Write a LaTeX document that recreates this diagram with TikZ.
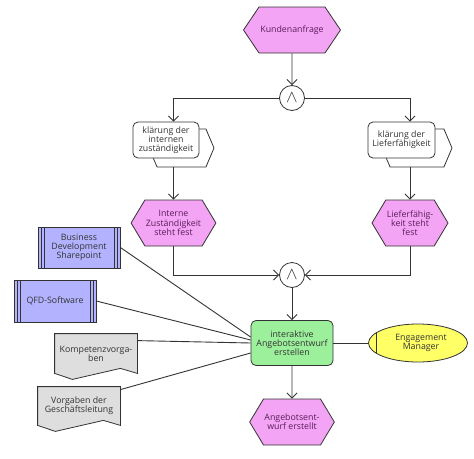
\documentclass[tikz,border=0pt]{standalone}
\usepackage{fontspec}
\setmainfont{Open Sans}
\usepackage{tikz}
\usetikzlibrary{
  arrows.meta,
  shapes.geometric,
  shapes.symbols,
  calc,
  backgrounds
}
\definecolor{epcEvent}{HTML}{F4A4F4}
\definecolor{epcEventText}{HTML}{5A1E5A}
\definecolor{epcFunc}{HTML}{9CF09C}
\definecolor{epcOrg}{HTML}{FFFF66}
\definecolor{epcApp}{HTML}{B2B2FF}
\definecolor{epcDoc}{HTML}{DEDEDE}
\definecolor{epcLine}{HTML}{333333}
\tikzset{
  epcnode/.style={
    draw=epcLine, line width=0.8pt, align=center, inner sep=1pt,
    font=\fontsize{8.8}{9.2}\selectfont, text=black!80
  },
  event/.style={epcnode, signal, signal to=west and east, signal pointer angle=118,
    fill=epcEvent, text=epcEventText, minimum width=81pt, minimum height=46pt},
  func/.style={epcnode, rectangle, rounded corners=5pt, fill=white, minimum width=66pt, minimum height=36pt},
  proc/.style={epcnode, signal, signal to=west and east, signal pointer angle=134,
    fill=white, minimum width=65pt, minimum height=38pt},
  funcmain/.style={func, fill=epcFunc, minimum width=82pt, minimum height=45pt},
  conn/.style={epcnode, circle, fill=white, minimum size=25pt, inner sep=0pt,
    font=\fontsize{16}{16}\selectfont},
  orgunit/.style={epcnode, ellipse, fill=epcOrg, minimum width=99pt, minimum height=38pt,
    path picture={\draw[epcLine, line width=0.8pt]
      ([xshift=8pt]path picture bounding box.north west) --
      ([xshift=8pt]path picture bounding box.south west);}},
  appsys/.style={epcnode, rectangle, fill=epcApp, minimum width=82pt, minimum height=41pt,
    path picture={\foreach \o in {3pt,6pt}{
      \draw[epcLine, line width=0.6pt] ([xshift=\o]path picture bounding box.north west) --
        ([xshift=\o]path picture bounding box.south west);
      \draw[epcLine, line width=0.6pt] ([xshift=-\o]path picture bounding box.north east) --
        ([xshift=-\o]path picture bounding box.south east);}}},
  docu/.style={epcnode, draw=none, rectangle, minimum width=82pt, minimum height=39pt},
  docline/.style={draw=epcLine, line width=0.8pt, fill=epcDoc},
  flow/.style={-{Straight Barb[length=5pt, width=10pt]}, line width=0.9pt, epcLine},
  assoc/.style={line width=0.9pt, epcLine}
}
\begin{document}
\begin{tikzpicture}[x=1pt, y=-1pt]
  \useasboundingbox (0,0) rectangle (474,458);

  \node[event, minimum width=97pt, signal pointer angle=112] (evStart) at (292,30) {Kundenanfrage};
  \node[conn] (andSplit) at (292,98) {$\wedge$};

  \node[proc] (procIntern) at (181.5,148) {};
  \node[func] (fnIntern) at (166,140) {klärung der\\internen\\zuständigkeit};
  \node[proc, minimum width=70pt] (procLiefer) at (417,148) {};
  \node[func, minimum width=67pt] (fnLiefer) at (401.5,140) {klärung der\\Lieferfähigkeit};

  \node[event] (evIntern) at (173.5,223) {Interne\\Zuständigkeit\\steht fest};
  \node[event, minimum width=76pt] (evLiefer) at (410,223) {Lieferfähig-\\keit steht\\fest};

  \node[conn] (andJoin) at (292,275) {$\wedge$};
  \node[funcmain] (fnAngebot) at (292,343) {interaktive\\Angebotsentwurf\\erstellen};
  \node[orgunit] (orgEM) at (418,343) {\hspace*{6pt}Engagement\\\hspace*{6pt}Manager};
  \node[event] (evEnd) at (292,422) {Angebotsent-\\wurf erstellt};

  \node[appsys] (appBDS) at (79,247.5) {Business\\Development\\Sharepoint};
  \node[appsys, minimum height=42pt] (appQFD) at (55,301) {QFD-Software};
  \node[docu] (docKomp) at (96,353.5) {Kompetenzvorga-\\ben};
  \node[docu, minimum height=38pt] (docVorg) at (79,406) {Vorgaben der\\Geschäftsleitung};

  \begin{scope}[on background layer]
    \foreach \d in {docKomp,docVorg}{
      \path[docline] (\d.north west) -- (\d.north east) -- (\d.south east)
        -- ($(\d.south east)+(-17,-5)$) -- ($(\d.south east)+(-65,6)$)
        -- (\d.south west) -- cycle;
    }
  \end{scope}

  \draw[flow] (evStart) -- (andSplit);
  \draw[flow] (andSplit) -| (evIntern.north |- fnIntern.north);
  \draw[flow] (andSplit) -| (evLiefer.north |- fnLiefer.north);
  \draw[flow] (evIntern.north |- procIntern.south) -- (evIntern.north);
  \draw[flow] (evLiefer.north |- procLiefer.south) -- (evLiefer.north);
  \draw[flow] (evIntern.south) |- (andJoin);
  \draw[flow] (evLiefer.south) |- (andJoin);
  \draw[flow] (andJoin) -- (fnAngebot);
  \draw[flow] (fnAngebot) -- (evEnd);
  \draw[assoc] (fnAngebot) -- (orgEM);
  \draw[assoc] (appBDS.east) -- ([yshift=6pt]fnAngebot.west);
  \draw[assoc] (appQFD.east) -- ([yshift=3pt]fnAngebot.west);
  \draw[assoc] ([yshift=-7pt]docKomp.north east) -- (fnAngebot.west);
  \draw[assoc] ([yshift=-3pt]docVorg.north east) -- ([yshift=-10pt]fnAngebot.west);
\end{tikzpicture}
\end{document}
